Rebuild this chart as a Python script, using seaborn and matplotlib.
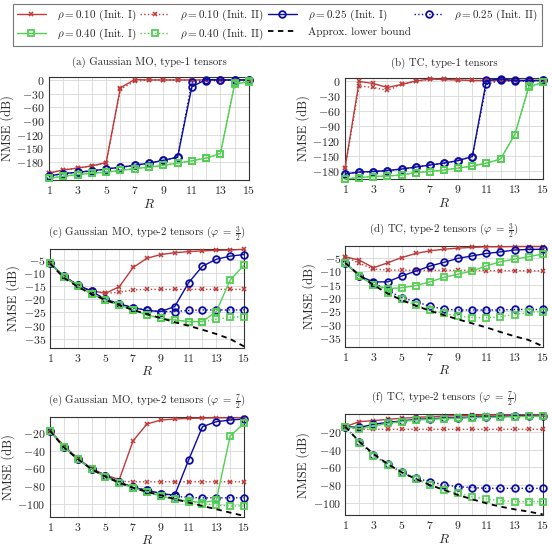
import numpy as np
import pandas as pd
import matplotlib
matplotlib.use("Agg")
import matplotlib.pyplot as plt
from matplotlib.ticker import FixedLocator
from matplotlib.lines import Line2D
import seaborn as sns

sns.set_theme(style="white")
plt.rcParams["font.family"] = ["cmr10", "DejaVu Serif"]
plt.rcParams["mathtext.fontset"] = "cm"
plt.rcParams["axes.formatter.use_mathtext"] = True
plt.rcParams["axes.unicode_minus"] = True

R = list(range(1, 15 + 1))

# (a) Gaussian MO, type-1 tensors
a_r1 = [-204, -197, -193, -188, -181, -17, 1, 0, 0, 0, 0, 0, 0, 0, 0]
a_r2 = [-204, -197, -193, -188, -181, -20, -3, 0, 0, 0, 0, 0, 0, 0, 0]
a_b1 = [-210, -205, -202, -199, -195, -191, -187, -182, -176, -169, -15, 1, 0, 0, 0]
a_b2 = [-210, -205, -202, -199, -195, -191, -187, -182, -176, -169, -5, -2, -1, 0, 0]
a_g1 = [-215, -211, -207, -204, -202, -198, -194, -191, -187, -182, -177, -171, -161, -9, -4]
a_g2 = [-215, -211, -207, -204, -202, -198, -194, -191, -187, -182, -177, -171, -161, -6, -3]

# (b) TC, type-1 tensors
b_r1 = [-175, -1, -5, -13, -7, 0, 4, 3, 2, 1, 1, 1, 1, 1, 1]
b_r2 = [-175, -10, -13, -19, -7, -1, 3, 3, 2, 1, 1, 1, 1, 1, 1]
b_b1 = [-187, -183, -182, -180, -177, -173, -169, -165, -160, -152, 1, 4, 1, 1, 1]
b_b2 = [-187, -183, -182, -180, -177, -173, -169, -165, -160, -152, -7, 2, -1, 0, 1]
b_g1 = [-197, -194, -192, -191, -189, -184, -182, -179, -175, -171, -165, -157, -108, -11, -3]
b_g2 = [-197, -194, -192, -191, -189, -184, -182, -179, -175, -171, -165, -157, -108, -13, -3]

# (c) Gaussian MO, type-2 tensors (phi = 3/2)
c_r1 = [-6.3, -11.5, -14.9, -16.8, -17.8, -15.3, -8.0, -4.5, -3.1, -2.4, -2.0, -1.7, -1.5, -1.4, -1.1]
c_r2 = [-6.3, -11.5, -14.9, -16.8, -17.8, -17.4, -16.5, -16.3, -16.3, -16.3, -16.3, -16.3, -16.3, -16.3, -16.3]
c_b1 = [-6.3, -11.3, -14.6, -17.1, -20.0, -21.8, -23.2, -24.3, -24.7, -22.8, -13.8, -7.5, -4.9, -3.7, -3.1]
c_b2 = [-6.3, -11.3, -14.6, -17.1, -20.0, -21.8, -23.2, -24.3, -24.7, -24.7, -24.3, -24.1, -24.1, -24.1, -24.1]
c_g1 = [-6.3, -11.5, -14.9, -18.1, -20.3, -22.3, -24.1, -26.0, -27.2, -27.9, -28.5, -28.5, -24.7, -12.8, -7.1]
c_g2 = [-6.3, -11.5, -14.9, -18.1, -20.3, -22.3, -24.1, -26.0, -27.2, -27.9, -28.5, -28.5, -27.6, -26.9, -26.6]
c_lb = [-6.5, -11.9, -15.3, -18.1, -20.3, -22.3, -24.1, -25.7, -27.2, -28.7, -30.1, -31.6, -33.2, -35.1, -37.9]

# (d) TC, type-2 tensors (phi = 3/2)
d_r1 = [-4.6, -5.9, -8.7, -6.9, -4.9, -3.4, -2.4, -1.8, -1.4, -1.1, -0.9, -0.9, -0.8, -0.8, -0.8]
d_r2 = [-4.6, -7.1, -9.2, -9.6, -9.6, -9.7, -9.7, -9.7, -9.7, -9.7, -9.8, -9.8, -9.8, -9.9, -9.9]
d_b1 = [-6.9, -11.8, -14.0, -14.0, -11.8, -10.0, -8.1, -6.7, -5.2, -4.3, -3.4, -2.8, -2.1, -1.9, -1.8]
d_b2 = [-6.9, -11.8, -14.3, -17.1, -19.9, -21.4, -23.1, -24.2, -24.5, -24.5, -24.5, -24.5, -24.3, -24.3, -24.3]
d_g1 = [-6.9, -11.8, -15.2, -16.5, -16.2, -15.4, -14.0, -12.3, -11.1, -9.9, -8.0, -6.5, -5.5, -4.6, -3.6]
d_g2 = [-6.9, -11.8, -15.2, -18.1, -20.4, -22.6, -24.5, -25.8, -26.7, -27.3, -27.4, -27.0, -26.2, -25.4, -25.1]
d_lb = [-6.9, -11.5, -15.2, -18.3, -20.8, -22.9, -24.8, -26.4, -28.0, -29.5, -31.0, -32.7, -34.3, -35.7, -38.0]

# (e) Gaussian MO, type-2 tensors (phi = 7/2)
e_r1 = [-17, -34, -48.6, -60, -67.6, -72.6, -28.4, -9.3, -4.8, -3.6, -2.9, -2.6, -2.3, -2.2, -2.1]
e_r2 = [-17, -34, -48.6, -60, -67.6, -74.5, -75.2, -75.2, -75.2, -75.2, -75.2, -75.2, -75.2, -75.2, -75.2]
e_b1 = [-17, -35.2, -49.3, -60.8, -68.8, -75.2, -81.7, -84.8, -88.6, -90.5, -50.5, -12.4, -6.7, -4.8, -3.6]
e_b2 = [-17, -35.2, -49.3, -60.8, -68.8, -75.2, -81.7, -84.8, -88.6, -91.6, -93.1, -93.5, -93.5, -93.5, -93.5]
e_g1 = [-17, -35.2, -49.3, -60.8, -69.5, -76.4, -82.1, -86.7, -91.6, -95.0, -97.3, -98.9, -96.2, -23.0, -8.6]
e_g2 = [-17, -35.2, -49.3, -60.8, -69.5, -76.4, -82.1, -86.7, -91.6, -95.0, -98.0, -100.0, -101.9, -102.7, -102.7]
e_lb = [-17, -36, -49.3, -60.8, -69.5, -76.4, -82.1, -86.7, -90.5, -95.0, -98.9, -102.7, -106.5, -110.3, -114.1]

# (f) TC, type-2 tensors (phi = 7/2)
f_r1 = [-14.4, -8.8, -7.7, -6.2, -5.1, -4.0, -3.3, -2.5, -2.1, -1.8, -1.4, -1.3, -1.1, -1.0, -1.0]
f_r2 = [-14.4, -17.4, -17.4, -17.4, -17.4, -17.4, -17.4, -17.4, -17.4, -17.4, -17.4, -17.4, -17.4, -17.4, -17.4]
f_b1 = [-14.4, -15.2, -11.8, -9.6, -8.1, -6.2, -5.5, -4.7, -4.4, -3.6, -3.3, -2.9, -2.5, -2.1, -2.1]
f_b2 = [-14.4, -31.2, -46.0, -56.1, -65.4, -72.1, -75.8, -79.5, -81.4, -82.5, -83.3, -83.3, -83.3, -83.3, -83.3]
f_g1 = [-14.4, -17.0, -13.7, -10.7, -8.8, -7.0, -6.2, -5.5, -5.1, -4.4, -4.0, -3.7, -3.3, -2.9, -2.5]
f_g2 = [-14.4, -33.0, -46.8, -57.2, -65.8, -73.2, -79.5, -85.1, -88.8, -92.6, -95.2, -97.0, -98.1, -98.1, -98.1]
f_lb = [-14.4, -31.2, -44.9, -56.1, -65.4, -72.8, -79.5, -85.1, -90.7, -95.5, -100.0, -103.7, -106.7, -109.3, -112.3]

titles = [
    "(a) Gaussian MO, type-1 tensors",
    "(b) TC, type-1 tensors",
    r"(c) Gaussian MO, type-2 tensors ($\varphi\;=\;\frac{3}{2}$)",
    r"(d) TC, type-2 tensors ($\varphi\;=\;\frac{3}{2}$)",
    r"(e) Gaussian MO, type-2 tensors ($\varphi\;=\;\frac{7}{2}$)",
    r"(f) TC, type-2 tensors ($\varphi\;=\;\frac{7}{2}$)",
]
legend_labels = [
    r"$\rho = 0.10$ (Init. I)", r"$\rho = 0.10$ (Init. II)",
    r"$\rho = 0.25$ (Init. I)", r"$\rho = 0.25$ (Init. II)",
    r"$\rho = 0.40$ (Init. I)", r"$\rho = 0.40$ (Init. II)",
    "Approx. lower bound",
]

panels = [
    ([a_r1, a_r2, a_b1, a_b2, a_g1, a_g2], None),
    ([b_r1, b_r2, b_b1, b_b2, b_g1, b_g2], None),
    ([c_r1, c_r2, c_b1, c_b2, c_g1, c_g2], c_lb),
    ([d_r1, d_r2, d_b1, d_b2, d_g1, d_g2], d_lb),
    ([e_r1, e_r2, e_b1, e_b2, e_g1, e_g2], e_lb),
    ([f_r1, f_r2, f_b1, f_b2, f_g1, f_g2], f_lb),
]

RED = "#c03a3a"
BLUE = "#0c0ca0"
GREEN = "#52d052"


def mk(color, marker, ls, ms, mew, face):
    return dict(color=color, marker=marker, linestyle=ls, markersize=ms,
                markeredgewidth=mew, markeredgecolor=color, markerfacecolor=face)


styles = [
    mk(RED, "x", "-", 3.4, 1.1, RED),
    mk(RED, "x", ":", 3.4, 1.1, RED),
    mk(BLUE, "o", "-", 4.8, 1.3, "none"),
    mk(BLUE, "o", ":", 4.8, 1.3, "none"),
    mk(GREEN, "s", "-", 4.8, 1.3, "none"),
    mk(GREEN, "s", ":", 4.8, 1.3, "none"),
]
LB_STYLE = dict(color="black", linestyle=(0, (3, 2.5)), linewidth=1.3, marker="None")

px = 552.0
boxes = [
    (49, 77, 249, 180), (345, 78, 543, 179),
    (50, 249, 244, 347.7), (345.3, 246, 542.7, 346.7),
    (50, 416.7, 244, 516.7), (345.3, 414.3, 542.7, 515.3),
]
ylims = [(-219, 6.5), (-197, 6), (-38.4, -1.0), (-38.2, -0.6), (-115, -1), (-113.4, -0.6)]
yticks = [
    list(range(-180, 1, 30)), list(range(-180, 1, 30)),
    list(range(-35, -4, 5)), list(range(-35, -4, 5)),
    list(range(-100, -19, 20)), list(range(-100, -19, 20)),
]


def draw(ax, y, style, lw=1.0, z=3):
    sns.lineplot(x=R, y=y, ax=ax, color=style["color"])
    line = ax.lines[-1]
    line.set(**style)
    if "linewidth" not in style:
        line.set_linewidth(lw)
    line.set_clip_on(False)
    line.set_zorder(z)


fig = plt.figure(figsize=(5.52, 5.52), dpi=100)
for i, ((series, lb), box) in enumerate(zip(panels, boxes)):
    l, t, r, b = box
    ax = fig.add_axes([l / px, 1 - b / px, (r - l) / px, (b - t) / px])
    for vals, st in zip(series, styles):
        draw(ax, vals, st)
    if lb is not None:
        draw(ax, lb, LB_STYLE, z=4)
    ax.set_xlim(1, 15)
    ax.set_ylim(*ylims[i])
    ax.xaxis.set_major_locator(FixedLocator(list(range(1, 16, 2))))
    ax.xaxis.set_minor_locator(FixedLocator(list(range(2, 15, 2))))
    ax.yaxis.set_major_locator(FixedLocator(yticks[i]))
    ax.grid(True, which="both", color="#d8d8d8", lw=0.6, zorder=0)
    ax.set_axisbelow(True)
    ax.tick_params(axis="both", which="major", labelsize=8.5, direction="in", length=2.5, pad=3)
    ax.tick_params(axis="both", which="minor", length=0)
    for s in ax.spines.values():
        s.set_color("#333333")
        s.set_linewidth(0.8)
    ax.set_xlabel(r"$R$", fontsize=9.5, labelpad=1)
    ax.set_ylabel("NMSE (dB)", fontsize=9, labelpad=2)
    ax.set_title(titles[i], fontsize=7.8, pad=9)

# legend
proxy = []
for st in styles:
    h = Line2D([], [], linewidth=1.0)
    h.set(**st)
    proxy.append(h)
hlb = Line2D([], [])
hlb.set(**LB_STYLE)
proxy.append(hlb)
order = [0, 4, 1, 5, 2, 6, 3]
leg = fig.legend([proxy[k] for k in order], [legend_labels[k] for k in order],
                 loc="center", ncol=4, mode="expand",
                 bbox_to_anchor=(7 / px, 1 - 45 / px, 541 / px, 40 / px),
                 fontsize=8, frameon=True, fancybox=False, handlelength=2.6,
                 handletextpad=1.0, columnspacing=0.8, borderpad=0.4, labelspacing=0.3)
leg.get_frame().set_edgecolor("#555555")
leg.get_frame().set_linewidth(0.8)

fig.savefig("out.png", dpi=100)
